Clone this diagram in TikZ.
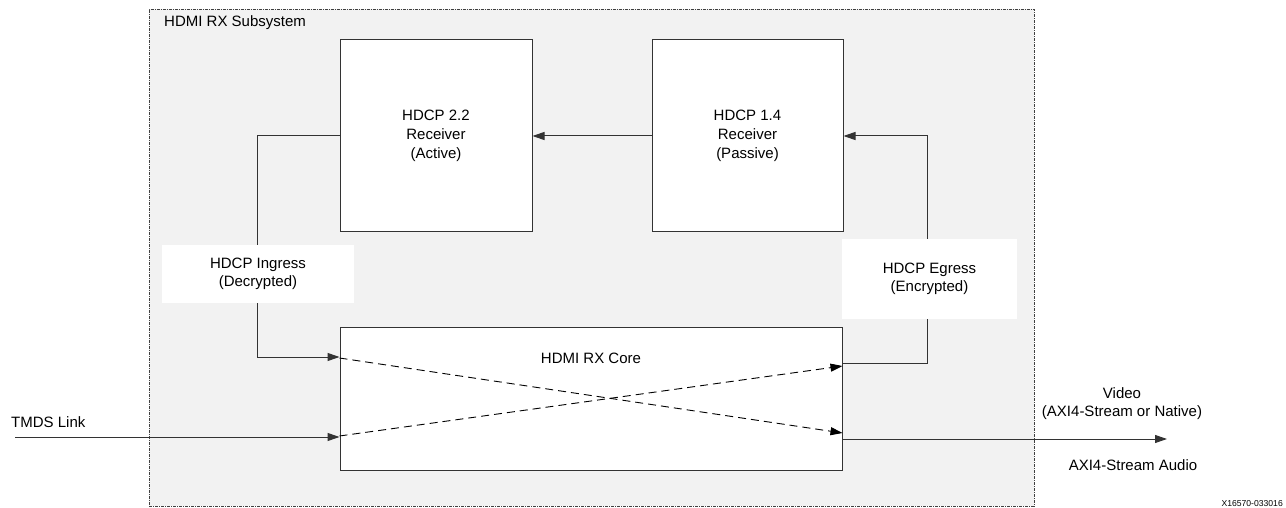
\documentclass[tikz,border=0pt]{standalone}
\usepackage{fontspec}
\setmainfont{Liberation Sans}
\usetikzlibrary{arrows.meta}
\definecolor{subfill}{HTML}{F2F2F2}
\definecolor{linecol}{HTML}{333333}
\tikzset{
  block/.style={draw=linecol, fill=white, line width=1pt, inner sep=0pt, font=\fontsize{15}{19}\selectfont, align=center},
  lbl/.style={fill=white, draw=none, inner sep=0pt, font=\fontsize{15}{18}\selectfont, align=center},
  txt/.style={inner sep=0pt, font=\fontsize{15}{18}\selectfont, align=center},
  conn/.style={draw=linecol, line width=1pt, -{Triangle[length=12pt,width=8pt]}},
  plain/.style={draw=linecol, line width=1pt},
  dsh/.style={draw=black, line width=0.9pt, dash pattern=on 8pt off 5pt, -{Triangle[length=12pt,width=8pt]}},
}
\begin{document}
\begin{tikzpicture}[x=1pt,y=-1pt]
\useasboundingbox (0,0) rectangle (1286,508);
% subsystem
\node[draw=black!75, fill=subfill, line width=0.7pt, dash pattern=on 3pt off 1pt on 1pt off 1pt, minimum width=885pt, minimum height=497pt, inner sep=0pt] (sub) at (591.5,257.5) {};
\node[txt, anchor=west] (subl) at (164,23) {HDMI RX Subsystem};
% blocks
\node[block, minimum width=192pt, minimum height=191pt] (h22) at (436,135.5) {HDCP 2.2\\Receiver\\(Active)};
\node[block, minimum width=191pt, minimum height=191pt] (h14) at (747.5,135.5) {HDCP 1.4\\Receiver\\(Passive)};
\node[block, minimum width=502pt, minimum height=143pt] (core) at (591,398.5) {};
\node[txt] (corel) at (591,358) {HDMI RX Core};
% labels
\node[lbl, minimum width=192pt, minimum height=58pt] (ing) at (258,274) {HDCP Ingress\\(Decrypted)};
\node[lbl, minimum width=175pt, minimum height=80pt] (egr) at (929.5,279) {HDCP Egress\\(Encrypted)};
% coordinates
\coordinate (tmdsin) at (15,437);
\coordinate (outend) at (1167,439);
\coordinate (ingT) at (257,136);
\coordinate (ingB) at (257,357);
\coordinate (egrB) at (927,363);
\coordinate (egrT) at (927,136);
% connectors
\draw[conn] (h14.west |- 0,136) -- (h22.east |- 0,136);
\draw[plain] (h22.west |- ingT) -- (ingT) -- (ing.north -| ingT);
\draw[conn] (ing.south -| ingB) -- (ingB) -- (core.west |- ingB);
\draw[plain] (core.east |- egrB) -- (egrB) -- (egr.south -| egrB);
\draw[conn] (egr.north -| egrT) -- (egrT) -- (h14.east |- egrT);
\draw[conn] (tmdsin) -- (core.west |- tmdsin);
\draw[conn] (core.east |- outend) -- (outend);
\draw[dsh] (core.west |- 0,358) -- (core.east |- 0,433);
\draw[dsh] (core.west |- 0,436) -- (core.east |- 0,366);
% external texts
\node[txt, anchor=west] (tmdsl) at (11,422) {TMDS Link};
\node[txt] (vid) at (1122,404) {Video\\(AXI4-Stream or Native)};
\node[txt] (aud) at (1133,465) {AXI4-Stream Audio};
\node[inner sep=0pt, font=\fontsize{8.6}{10}\selectfont, anchor=east] (fig) at (1283,504) {X16570-033016};
\end{tikzpicture}
\end{document}
